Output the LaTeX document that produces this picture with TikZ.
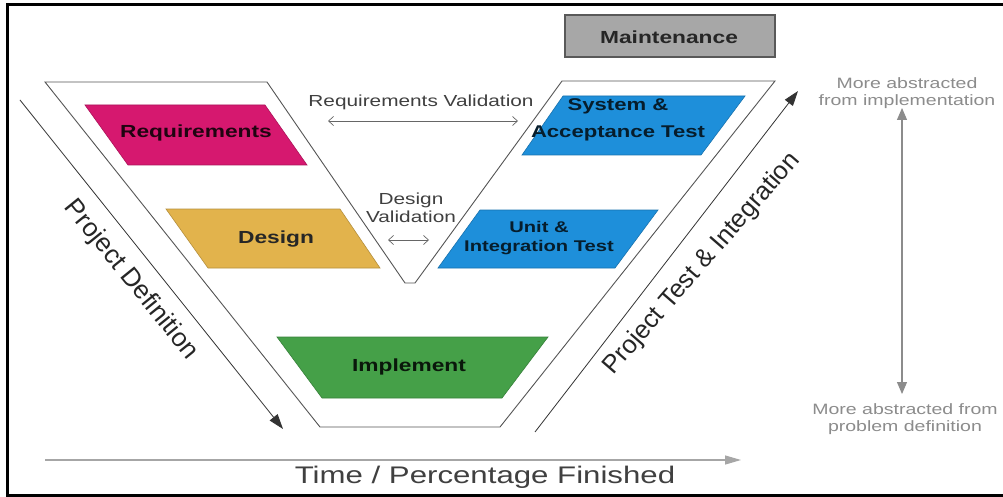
\documentclass[tikz,border=0pt]{standalone}
\usepackage{fontspec}
\setmainfont{Liberation Sans}[FakeStretch=1.3]
\newfontfamily\rotfont{Liberation Sans}
\usetikzlibrary{arrows.meta}
\definecolor{magentaR}{HTML}{D6186F}
\definecolor{goldD}{HTML}{E2B34C}
\definecolor{greenI}{HTML}{45A048}
\definecolor{blueT}{HTML}{1E8FDA}
\definecolor{grayM}{HTML}{A7A7A7}
\definecolor{vedge}{HTML}{555555}
\definecolor{softgray}{HTML}{8C8C8C}
\definecolor{labtext}{HTML}{262626}
\begin{document}
\begin{tikzpicture}[x=1pt,y=-1pt,
  vline/.style={draw=vedge, line width=0.9pt, line join=miter},
  boxshape/.style={draw=#1!80!black, line width=0.6pt, fill=#1},
  bold/.style={font=\bfseries\fontsize{17.5}{20}\selectfont, text=labtext, inner sep=0pt},
  plain/.style={font=\fontsize{16}{18}\selectfont, text=black!75, inner sep=0pt},
  side/.style={font=\fontsize{15}{16.5}\selectfont, text=softgray, align=center, inner sep=0pt},
  big/.style={font=\rotfont\fontsize{26}{28}\selectfont, text=black!85, inner sep=0pt},
  valarrow/.style={draw=black!60, line width=0.7pt, {Straight Barb[length=5pt,width=9pt]}-{Straight Barb[length=5pt,width=9pt]}},
  projarrow/.style={draw=black!80, line width=0.8pt, -{Triangle[length=15pt,width=10pt]}},
  grayarrow/.style={draw=black!45, line width=1.2pt}
]
\useasboundingbox (0,0) rectangle (1003,497);
\fill[white] (0,0) rectangle (1003,497);
% frame
\draw[line width=3pt] (1003,5) -- (7,5) -- (7,495) -- (1003,495);

% V outline
\draw[vline, fill=white] (45,82) -- (267,82) -- (405,283) -- (415,283) -- (562,81) -- (775,81) -- (500,427) -- (320,427) -- cycle;

% phase shapes
\path[boxshape=magentaR] (85,105) -- (265,105) -- (307,165) -- (128,165) -- cycle;
\path[boxshape=goldD] (166,209) -- (340,209) -- (380,268) -- (208,268) -- cycle;
\path[boxshape=greenI] (277,337) -- (548,337) -- (502,398) -- (322,398) -- cycle;
\path[boxshape=blueT] (563,96) -- (745,96) -- (701,155) -- (522,155) -- cycle;
\path[boxshape=blueT] (480,210) -- (658,210) -- (615,268) -- (438,268) -- cycle;
\path[draw=black!65, line width=1.2pt, fill=grayM] (565,15) rectangle (775,57);

% labels
\node[bold, text=black!85!magentaR] (req) at (196,133) {Requirements};
\node[bold] (des) at (276,239) {Design};
\node[bold, text=black!85!greenI] (imp) at (409,367) {Implement};
\node[bold, text=black!80!blueT, font=\bfseries\fontsize{17}{26.5}\selectfont, align=center] (sys) at (618,120) {System \&\\Acceptance Test};
\node[bold, text=black!80!blueT, font=\bfseries\fontsize{15.5}{18.5}\selectfont, align=center] (uit) at (539,238) {Unit \&\\Integration Test};
\node[bold] (mnt) at (669,37) {Maintenance};

% validations
\node[plain] (rv) at (421,102) {Requirements Validation};
\coordinate (rvl) at (328,121);
\coordinate (rvr) at (518,121);
\draw[valarrow] (rvl) -- (rvr);
\node[plain, align=center, font=\fontsize{16}{18.5}\selectfont] (dv) at (411,208) {Design\\Validation};
\coordinate (dvl) at (388,240);
\coordinate (dvr) at (429,240);
\draw[valarrow] (dvl) -- (dvr);

% project arrows
\coordinate (pds) at (20,100);
\coordinate (pde) at (283,429);
\draw[projarrow] (pds) -- (pde);
\node[big, rotate=-51] (pd) at (131,280) {Project Definition};
\coordinate (pts) at (535,432);
\coordinate (pte) at (798,91);
\draw[projarrow] (pts) -- (pte);
\node[big, font=\rotfont\fontsize{25.5}{28}\selectfont, rotate=49] (pt) at (702,264) {Project Test \& Integration};

% abstraction axis
\node[side] (top) at (907,93) {More abstracted\\from implementation};
\node[side] (bot) at (905,419) {More abstracted from\\problem definition};
\coordinate (at) at (902,108);
\coordinate (ab) at (902,394);
\draw[grayarrow, {Triangle[length=12pt,width=10pt]}-{Triangle[length=12pt,width=10pt]}] (at) -- (ab);

% time axis
\coordinate (ts) at (45,460);
\coordinate (te) at (741,460);
\draw[grayarrow, draw=black!35, -{Triangle[length=16pt,width=9pt]}] (ts) -- (te);
\node[big, font=\fontsize{24}{26}\selectfont, text=black!75] (time) at (485,477) {Time / Percentage Finished};
\end{tikzpicture}
\end{document}
